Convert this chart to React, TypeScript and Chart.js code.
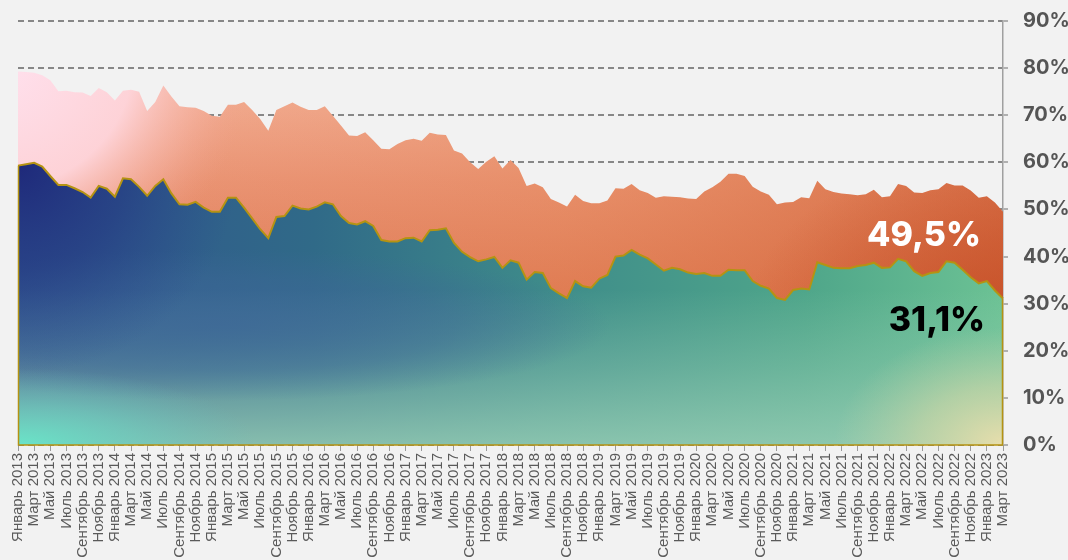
import React, { useEffect, useRef } from 'react';
import { Chart, registerables } from 'chart.js';

Chart.register(...registerables);

const MONTHS = ['Январь', 'Февраль', 'Март', 'Апрель', 'Май', 'Июнь', 'Июль', 'Август', 'Сентябрь', 'Октябрь', 'Ноябрь', 'Декабрь'];
const YEARS = [2013, 2014, 2015, 2016, 2017, 2018, 2019, 2020, 2021, 2022, 2023];
const MONTHS_IN_LAST_YEAR = 3;

const categories: string[] = [];
YEARS.forEach((y, yi) => {
  MONTHS.forEach((m, mi) => {
    if (yi < YEARS.length - 1 || mi < MONTHS_IN_LAST_YEAR) categories.push(`${m} ${y}`);
  });
});

// lower series (green area)
const seriesLow: number[] = [
  59.3, 59.6, 59.9, 59.1, 57.1, 55.2, 55.2, 54.5, 53.7, 52.5, 55.0, 54.4,
  52.7, 56.6, 56.4, 54.8, 52.9, 55.0, 56.4, 53.4, 51.1, 51.0, 51.6, 50.4,
  49.5, 49.5, 52.5, 52.5, 50.4, 48.1, 45.8, 43.9, 48.4, 48.6, 50.8, 50.2,
  50.0, 50.6, 51.5, 51.1, 48.6, 47.1, 46.8, 47.5, 46.5, 43.5, 43.2, 43.2,
  43.9, 44.0, 43.2, 45.6, 45.7, 46.0, 42.9, 41.0, 39.9, 39.0, 39.4, 39.9,
  37.6, 39.2, 38.7, 35.1, 36.7, 36.5, 33.3, 32.2, 31.2, 34.8, 33.7, 33.4,
  35.3, 36.1, 40.0, 40.2, 41.4, 40.4, 39.6, 38.3, 37.0, 37.6, 37.3, 36.6,
  36.3, 36.5, 35.9, 35.9, 37.2, 37.1, 37.1, 34.8, 33.8, 33.2, 31.2, 30.8,
  32.9, 33.2, 33.0, 38.8, 38.2, 37.6, 37.5, 37.5, 38.0, 38.2, 38.7, 37.6,
  37.7, 39.5, 39.0, 36.9, 35.9, 36.5, 36.7, 39.0, 38.7, 37.2, 35.6, 34.3,
  34.8, 32.8, 31.1,
];

// upper series (orange area)
const seriesHigh: number[] = [
  79.3, 79.2, 79.0, 78.5, 77.4, 75.1, 75.2, 74.9, 74.8, 74.1, 75.8, 74.9,
  73.1, 75.2, 75.4, 75.0, 70.9, 72.8, 76.3, 74.0, 71.9, 71.7, 71.6, 70.9,
  69.9, 69.7, 72.2, 72.2, 72.8, 71.1, 69.2, 66.7, 71.1, 71.9, 72.7, 71.8,
  71.1, 71.1, 71.9, 69.9, 67.8, 65.7, 65.6, 66.4, 64.7, 62.9, 62.8, 63.9,
  64.7, 65.0, 64.6, 66.3, 65.9, 65.8, 62.5, 61.9, 60.0, 58.6, 60.1, 61.3,
  58.7, 60.5, 58.8, 55.0, 55.5, 54.7, 52.2, 51.5, 50.6, 53.1, 51.8, 51.3,
  51.3, 51.9, 54.5, 54.4, 55.4, 54.1, 53.5, 52.5, 52.8, 52.7, 52.6, 52.3,
  52.2, 53.8, 54.7, 55.9, 57.6, 57.6, 57.1, 54.8, 53.8, 53.1, 51.1, 51.5,
  51.6, 52.6, 52.4, 56.1, 54.3, 53.7, 53.4, 53.2, 53.0, 53.2, 54.2, 52.6,
  52.8, 55.4, 55.0, 53.6, 53.5, 54.1, 54.3, 55.6, 55.1, 55.1, 54.0, 52.5,
  52.8, 51.5, 49.5,
];

const labelHigh = '49,5%';
const labelLow = '31,1%';

const Y_MIN = 0;
const Y_MAX = 90;
const Y_STEP = 10;

type Area = { left: number; right: number; top: number; bottom: number };

function radial(g: CanvasRenderingContext2D, cx: number, cy: number, r: number, sx: number, sy: number, stops: [number, string][], w: number, h: number) {
  g.save();
  g.translate(cx, cy);
  g.scale(sx, sy);
  const rg = g.createRadialGradient(0, 0, 0, 0, 0, r);
  stops.forEach(([o, c]) => rg.addColorStop(o, c));
  g.fillStyle = rg;
  g.fillRect(-cx / sx - 10, -cy / sy - 10, w / sx + 20, h / sy + 20);
  g.restore();
}

function paintOrange(w: number, h: number, a: Area) {
  const c = document.createElement('canvas');
  c.width = w; c.height = h;
  const g = c.getContext('2d')!;
  let lg = g.createLinearGradient(0, 60, 0, 330);
  lg.addColorStop(0, '#f6b9a0');
  lg.addColorStop(0.45, '#ea9574');
  lg.addColorStop(1, '#dc744c');
  g.fillStyle = lg; g.fillRect(0, 0, w, h);
  lg = g.createLinearGradient(a.left, 0, a.right, 0);
  lg.addColorStop(0, 'rgba(230,130,110,0)');
  lg.addColorStop(0.55, 'rgba(225,125,75,0.25)');
  lg.addColorStop(1, 'rgba(200,80,35,0.55)');
  g.fillStyle = lg; g.fillRect(0, 0, w, h);
  radial(g, a.right, 330, 260, 1, 0.7, [[0, 'rgba(195,75,35,0.75)'], [1, 'rgba(195,75,35,0)']], w, h);
  radial(g, a.left - 30, 60, 240, 1.1, 1, [
    [0, 'rgba(255,226,240,1)'],
    [0.55, 'rgba(254,212,218,0.97)'],
    [0.8, 'rgba(248,185,175,0.45)'],
    [1, 'rgba(240,160,140,0)'],
  ], w, h);
  return c;
}

function paintGreen(w: number, h: number, a: Area) {
  const c = document.createElement('canvas');
  c.width = w; c.height = h;
  const g = c.getContext('2d')!;
  let lg = g.createLinearGradient(a.left, 0, a.right, 0);
  lg.addColorStop(0, '#30528e');
  lg.addColorStop(0.3, '#306a88');
  lg.addColorStop(0.55, '#3f8d8a');
  lg.addColorStop(0.8, '#4fa68a');
  lg.addColorStop(1, '#6cc294');
  g.fillStyle = lg; g.fillRect(0, 0, w, h);
  // light lower band
  lg = g.createLinearGradient(0, 290, 0, a.bottom);
  lg.addColorStop(0, 'rgba(150,205,180,0)');
  lg.addColorStop(0.5, 'rgba(150,205,180,0.4)');
  lg.addColorStop(1, 'rgba(150,205,180,0.85)');
  g.fillStyle = lg; g.fillRect(0, 0, w, h);
  // blue cloud lower left-middle
  radial(g, 220, 325, 230, 1.7, 0.33, [[0, 'rgba(62,104,152,0.8)'], [0.6, 'rgba(62,104,152,0.45)'], [1, 'rgba(62,104,152,0)']], w, h);
  // navy top-left
  radial(g, a.left, 165, 210, 1.05, 1, [[0, 'rgba(30,40,122,0.98)'], [0.5, 'rgba(35,55,130,0.6)'], [1, 'rgba(40,70,140,0)']], w, h);
  // aqua bottom-left
  radial(g, a.left, a.bottom, 170, 1.4, 0.45, [[0, 'rgba(105,228,200,1)'], [0.5, 'rgba(105,210,195,0.55)'], [1, 'rgba(100,190,190,0)']], w, h);
  // pale yellow bottom-right
  radial(g, a.right, a.bottom, 130, 1.3, 0.9, [[0, 'rgba(232,222,172,1)'], [0.5, 'rgba(210,215,165,0.6)'], [1, 'rgba(190,210,165,0)']], w, h);
  return c;
}

const cache: Record<string, CanvasPattern | null> = {};

function patternFor(chart: Chart, key: 'orange' | 'green', fallback: string) {
  const a = chart.chartArea;
  if (!a) return fallback;
  const id = `${key}-${chart.width}-${chart.height}-${a.left}-${a.top}-${a.right}-${a.bottom}`;
  if (!cache[id]) {
    const off = key === 'orange' ? paintOrange(chart.width, chart.height, a) : paintGreen(chart.width, chart.height, a);
    cache[id] = chart.ctx.createPattern(off, 'no-repeat');
  }
  return cache[id] || fallback;
}

const GOLD = '#b59312';

const edgePlugin = {
  id: 'edges',
  afterDatasetsDraw(chart: any) {
    const meta = chart.getDatasetMeta(0);
    const pts = meta.data;
    if (!pts || !pts.length) return;
    const first = pts[0];
    const last = pts[pts.length - 1];
    const bottom = chart.chartArea.bottom;
    const ctx = chart.ctx;
    ctx.save();
    ctx.strokeStyle = GOLD;
    ctx.lineWidth = 1.5;
    ctx.beginPath();
    ctx.moveTo(first.x + 0.5, first.y);
    ctx.lineTo(first.x + 0.5, bottom);
    ctx.lineTo(last.x - 0.5, bottom);
    ctx.lineTo(last.x - 0.5, last.y);
    ctx.stroke();
    ctx.restore();
  },
  afterDraw(chart: any) {
    const ctx = chart.ctx;
    const yS = chart.scales.y;
    const xS = chart.scales.x;
    const lastIdx = categories.length - 1;
    const xr = xS.getPixelForValue(lastIdx) - 22;
    ctx.save();
    ctx.textAlign = 'right';
    ctx.textBaseline = 'alphabetic';
    ctx.font = '800 34px Inter, "Noto Sans", sans-serif';
    ctx.fillStyle = '#ffffff';
    ctx.fillText(labelHigh, xr, yS.getPixelForValue(42.2));
    ctx.fillStyle = '#000000';
    ctx.fillText(labelLow, xr + 4, yS.getPixelForValue(24.1));
    ctx.restore();
  },
};

export default function App() {
  const ref = useRef<HTMLCanvasElement>(null);
  useEffect(() => {
    if (!ref.current) return;
    const chart = new Chart(ref.current, {
      type: 'line',
      data: {
        labels: categories,
        datasets: [
          {
            label: 'low',
            data: seriesLow,
            order: 0,
            fill: 'origin',
            borderColor: GOLD,
            borderWidth: 2,
            pointRadius: 0,
            tension: 0,
            backgroundColor: (c: any) => patternFor(c.chart, 'green', '#3f8a8a'),
          },
          {
            label: 'high',
            data: seriesHigh,
            order: 1,
            fill: 'origin',
            borderWidth: 0,
            borderColor: 'rgba(0,0,0,0)',
            pointRadius: 0,
            tension: 0,
            backgroundColor: (c: any) => patternFor(c.chart, 'orange', '#e8906f'),
          },
        ],
      },
      options: {
        animation: false,
        responsive: true,
        maintainAspectRatio: false,
        layout: { padding: { left: 18, top: 21, right: 0, bottom: 0 } },
        plugins: { legend: { display: false }, tooltip: { enabled: false } },
        scales: {
          x: {
            type: 'category',
            offset: false,
            grid: { display: true, drawOnChartArea: false, drawTicks: true, tickLength: 6, tickColor: '#9a9a9a', tickWidth: 1 },
            border: { display: false },
            ticks: {
              autoSkip: false,
              minRotation: 90,
              maxRotation: 90,
              padding: 2,
              color: '#5a5a5a',
              font: { family: '"Liberation Sans", Arial, sans-serif', size: 15 },
              callback: (_v: any, i: number) => (i % 2 === 0 ? categories[i] : null),
            },
            afterFit: (s: any) => { s.height = 115; s.paddingLeft = 0; s.paddingRight = 0; },
          },
          y: {
            position: 'right',
            min: Y_MIN,
            max: Y_MAX,
            grid: {
              color: '#878787',
              lineWidth: 2,
              drawTicks: true,
              tickLength: 5,
              tickColor: '#9a9a9a',
              tickWidth: 1.5,
            },
            border: { display: true, color: '#a0a0a0', width: 1.5, dash: [6, 4] },
            ticks: {
              stepSize: Y_STEP,
              padding: 15,
              color: '#555555',
              font: { family: 'Inter, "Noto Sans", sans-serif', size: 20, weight: 'bold' },
              callback: (v: any) => `${v}%`,
            },
            afterFit: (s: any) => { s.width = 65; s.paddingTop = 0; s.paddingBottom = 0; },
          },
        },
      },
      plugins: [edgePlugin],
    });
    return () => chart.destroy();
  }, []);
  return (
    <div style={{ position: 'fixed', left: 0, top: 0, width: 1068, height: 560, background: '#f2f2f2' }}>
      <canvas ref={ref} />
    </div>
  );
}
